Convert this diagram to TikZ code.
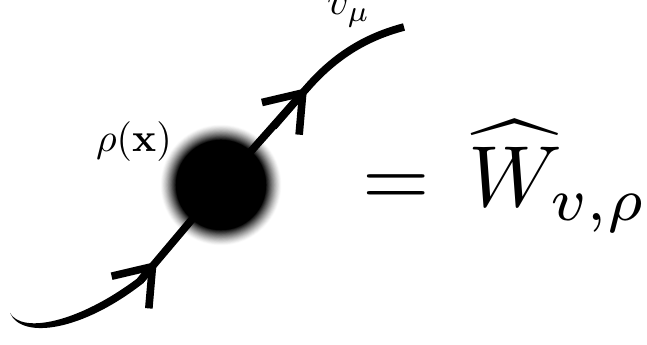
\documentclass[tikz,border=0pt]{standalone}
\usepackage{amssymb}
\usepackage{amsmath}
\usepackage{tikz}
\usepackage{xcolor}
\usetikzlibrary{arrows.meta, positioning, calc}

\begin{document}
\begin{tikzpicture}[x=0.03cm, y=0.03cm, worldline/.style={line width=6.5pt}, >={Straight Barb[length=29pt, width=42pt]}, bigmath/.style={inner sep=0pt}]
    \useasboundingbox (0,0) rectangle (647,345);
    % fuzzy source
    \coordinate (blob) at (221,160);
    \foreach \i in {0,...,20} {
        \pgfmathsetmacro\pct{100*(\i/20)^1.3}
        \fill[black!\pct] (blob) circle ({61-0.8*\i});
    }
    \fill (blob) circle (45);
    
    \coordinate (start) at (10,32);
    \coordinate (p1) at (140,64);
    \coordinate (p2) at (307,257);
    \coordinate (end) at (404,318);
    
    % tapered tail
    \fill (start) .. controls (22,5) and (82,14) .. (142.8,61.5) -- (137.2,66.5) .. controls (78,22) and (22,11) .. (start) -- cycle;
    \draw[worldline] (p1) -- (blob) -- (p2) .. controls (340,295) and (374,310) .. (end);
    \draw[worldline, ->] (p1) -- ($(p1)!0.1!(p2)$);
    \draw[worldline, ->] ($(p1)!0.8!(p2)$) -- (p2);
    
    \node[bigmath, anchor=base] (rho) at (134,193) {\scalebox{3.4}{$\rho(\mathbf{x})$}};
    \node[bigmath, anchor=base west] (vmu) at (327,330) {\scalebox{3.6}{$v_\mu$}};
    \node[bigmath, anchor=base west] (eq) at (362,138) {\scalebox{7.4}{$=\,\widehat{W}_{v,\rho}$}};
\end{tikzpicture}
\end{document}
